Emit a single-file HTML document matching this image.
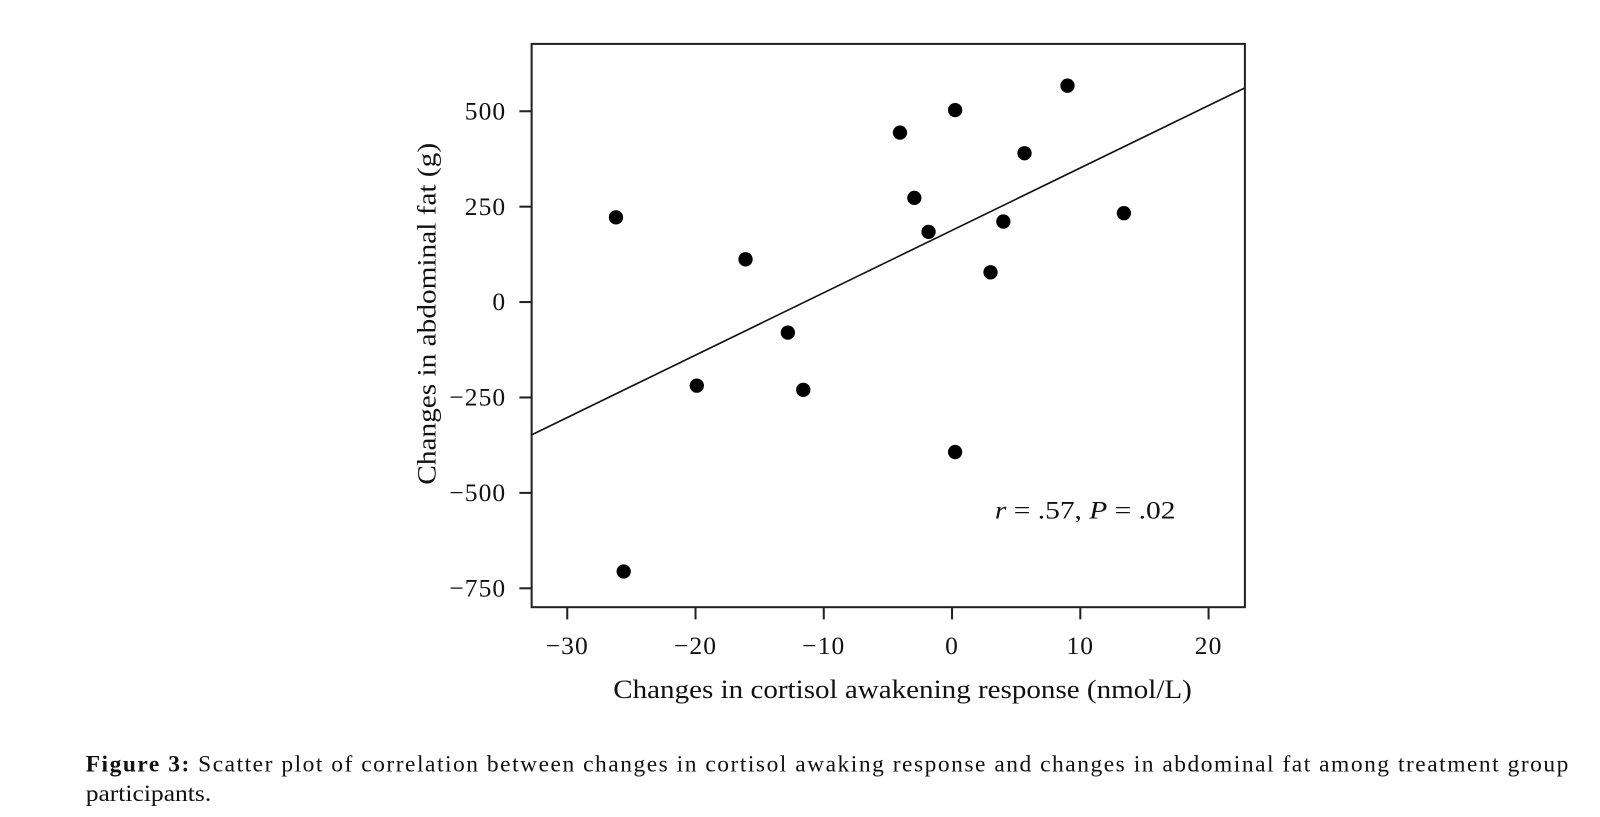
<!DOCTYPE html>
<html><head><meta charset="utf-8"><style>
html,body{margin:0;padding:0;background:#fff;width:1600px;height:817px;overflow:hidden}
text{font-family:"Liberation Serif",serif;fill:#111}
</style></head><body>
<svg id="chart" width="1600" height="817" viewBox="0 0 1568 800.6" xmlns="http://www.w3.org/2000/svg">
<g id="plot"></g>
<text x="975" y="508" font-size="25" textLength="177" lengthAdjust="spacingAndGlyphs"><tspan font-style="italic">r</tspan> = .57, <tspan font-style="italic">P</tspan> = .02</text>
<text x="601" y="684" font-size="26" textLength="567" lengthAdjust="spacingAndGlyphs">Changes in cortisol awakening response (nmol/L)</text>
<text transform="translate(427,475) rotate(-90)" font-size="26" textLength="335" lengthAdjust="spacingAndGlyphs">Changes in abdominal fat (g)</text>
<text x="84" y="756" font-size="23" textLength="1453" lengthAdjust="spacing"><tspan font-weight="bold">Figure 3:</tspan> Scatter plot of correlation between changes in cortisol awaking response and changes in abdominal fat among treatment group</text>
<text x="84" y="785" font-size="23" textLength="123" lengthAdjust="spacingAndGlyphs">participants.</text>
</svg>
<script>
const xVals=[-26.2,-25.6,-19.9,-16.1,-12.8,-11.6,-4.06,-2.94,-1.83,0.24,0.24,3.0,4.0,5.65,9.0,13.4];
const yVals=[222,-706,-219,112,-80,-230,444,273,184,503,-393,78,211,390,567,233];
const xTicks=[-30,-20,-10,0,10,20];
const yTicks=[500,250,0,-250,-500,-750];
const yTickLabels=["500","250","0","\u2212250","\u2212500","\u2212750"];
const xTickLabels=["\u221230","\u221220","\u221210","0","10","20"];
const fitSlope=16.35, fitIntercept=188;
const L=521,R=1220,T=43,B=595;
const xMin=(L-933)/12.57, xMax=(R-933)/12.57;
const sx=v=>933+v*12.57, sy=v=>296-v*0.374;
const ns="http://www.w3.org/2000/svg", g=document.getElementById('plot');
function mk(t,a){const e=document.createElementNS(ns,t);for(const k in a)e.setAttribute(k,a[k]);g.appendChild(e);return e;}
let f=mk('rect',{x:L,y:T,width:R-L,height:B-T,fill:'none',stroke:'#222','stroke-width':2});


xTicks.forEach((v,i)=>{
 let t=mk('line',{x1:sx(v),x2:sx(v),y1:B,y2:B+12,stroke:'#222','stroke-width':2});
 
 
 let l=mk('text',{x:sx(v),y:B+46,'font-size':25,'text-anchor':'middle','letter-spacing':1});l.textContent=xTickLabels[i];
 
 
});
yTicks.forEach((v,i)=>{
 let t=mk('line',{x1:L-12,x2:L,y1:sy(v),y2:sy(v),stroke:'#222','stroke-width':2});
 
 
 let l=mk('text',{x:L-25,y:sy(v)+8,'font-size':25,'text-anchor':'end','letter-spacing':1});l.textContent=yTickLabels[i];
 
 
});
let ln=mk('line',{x1:sx(xMin),y1:sy(fitIntercept+fitSlope*xMin),x2:sx(xMax),y2:sy(fitIntercept+fitSlope*xMax),stroke:'#111','stroke-width':1.6});


xVals.forEach((v,i)=>{
 let c=mk('circle',{cx:sx(v),cy:sy(yVals[i]),r:7,fill:'#000'});
 
 
});
</script>
</body></html>
